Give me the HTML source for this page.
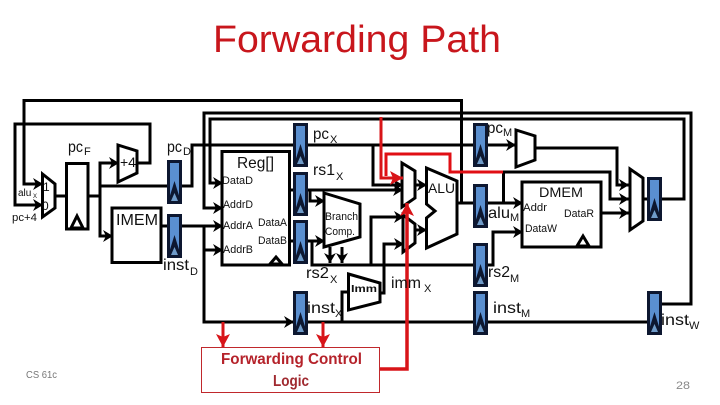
<!DOCTYPE html>
<html><head><meta charset="utf-8"><style>
html,body{margin:0;padding:0;background:#fff}
svg{display:block}
text{font-family:"Liberation Sans",sans-serif;fill:#111}
.w{fill:none;stroke:#000;stroke-width:3}
.a{fill:none;stroke:#000;stroke-width:3;marker-end:url(#ah)}
.b{fill:#fff;stroke:#000;stroke-width:3}
.r{fill:none;stroke:#e00f14;stroke-width:3}
.ra{fill:none;stroke:#d81418;stroke-width:3;marker-end:url(#rh)}
.s{font-size:11px}.m{font-size:16px}.u{font-size:11px}
</style></head><body>
<svg width="720" height="405" viewBox="0 0 720 405" xmlns="http://www.w3.org/2000/svg">
<defs>
<marker id="ah" markerUnits="userSpaceOnUse" markerWidth="13" markerHeight="13" refX="12" refY="6.5" orient="auto"><path d="M2,0.5 L12,6.5 L2,12.5 L5,6.5z" fill="#000"/></marker>
<marker id="rh" markerUnits="userSpaceOnUse" markerWidth="15" markerHeight="15" refX="14" refY="7.500" orient="auto"><path d="M1,0.5 L14,7.500 L1,14.500 L4,7.500z" fill="#d81418"/></marker>
<g id="reg"><rect x="1.5" y="1.5" width="12" height="41" fill="#5a8fd0" stroke="#0d1730" stroke-width="3"/><path d="M7.5,21 L14,42 L1,42z" fill="#0d1730"/><path d="M7.5,33 L11,41 L4,41z" fill="#6f9bc9"/></g>
</defs>
<rect width="720" height="405" fill="#fff"/>
<text x="213" y="52" font-size="38" textLength="288" lengthAdjust="spacingAndGlyphs" style="fill:#c8161c">Forwarding Path</text>

<!-- wires -->
<polyline class="a" points="461.5,203 461.5,100.5 24,100.5 24,184 43,184"/>
<polyline class="a" points="137,163 150,163 150,124 15,124 15,205 43,205"/>
<polyline class="w" points="55,196 67,196"/>
<polyline class="w" points="88,196 100,196"/>
<polyline class="a" points="118,163 100,163 100,236 113,236"/>
<polyline class="a" points="100,163 119,163"/>
<polyline class="w" points="100,186 168,186"/>
<polyline class="w" points="181,186 192,186 192,145 474,145"/>
<polyline class="a" points="474,145 516,145"/>
<polyline class="w" points="160,226 168,226"/>
<polyline class="a" points="181,226 223,226"/>
<polyline class="a" points="204,226 204,322 294,322"/>
<polyline class="a" points="204,250 223,250"/>
<polyline class="w" points="305,322 648,322"/>
<polyline class="a" points="662,304 691,304 691,113 204,113 204,208 223,208"/>
<polyline class="a" points="662,199 684,199 684,119 210,119 210,183 223,183"/>
<polyline class="a" points="289,190 310,190 403,190"/>
<polyline class="a" points="310,190 310,201 325,201"/>
<polyline class="a" points="289,241 325,241"/>
<polyline class="a" points="373,145 373,185 403,185"/>
<polyline class="w" points="312,241 312,265 474,265"/>
<polyline class="a" points="371,265 371,217 404,217"/>
<polyline class="a" points="380,293 384,293 384,244 404,244"/>
<polyline class="a" points="415,185 427,185"/>
<polyline class="a" points="415,230 427,230"/>
<polyline class="w" points="457,203 475,203"/>
<polyline class="a" points="487,203 523,203"/>
<polyline class="a" points="487,265 493,265 493,232 523,232"/>
<polyline class="a" points="503.500,203 503.500,172 610,172 610,199 629,199"/>
<polyline class="a" points="535,148 617,148 617,185 629,185"/>
<polyline class="a" points="600,213 629,213"/>
<polyline class="w" points="643,199 648,199"/>
<polyline class="w" points="342,322 342,292 349,292"/>
<polyline class="a" points="330,247 330,263"/>
<polyline class="a" points="342,247 342,263"/>

<!-- blocks -->
<polygon class="b" points="42.500,174 55,184 55,208 42.500,217"/>
<rect class="b" x="66.500" y="163.500" width="21.500" height="65.500"/>
<path d="M77,216 L83,228 L71,228z" fill="#fff" stroke="#000" stroke-width="3"/>
<polygon class="b" points="118,145 137,151 137,173 118,182"/>
<rect class="b" x="112" y="208" width="49" height="54.500"/>
<rect class="b" x="222" y="151.500" width="67.500" height="113.500"/>
<path d="M276,257 L282,264 L270,264z" fill="#fff" stroke="#000" stroke-width="3"/>
<polygon class="b" points="324,193 360,204 360,237 324,247"/>
<polygon class="b" points="348.500,274 380,283 380,302 348.500,310"/>
<polygon class="b" points="403,215 415,224 415,243 403,252"/>
<polygon class="b" points="402,163 415,171 415,198 402,207"/>
<polygon class="b" points="426.500,168 457,181 457,234 426.500,248 426.500,218 435,211 426.500,204"/>
<polygon class="b" points="516,130 535,136 535,160 516,167"/>
<rect class="b" x="522" y="182" width="79" height="65"/>
<path d="M583,236 L589,246 L577,246z" fill="#fff" stroke="#000" stroke-width="3"/>
<polygon class="b" points="630,169 643,178 643,221 630,230"/>

<use href="#reg" x="167" y="160"/>
<use href="#reg" x="167" y="214"/>
<use href="#reg" x="293" y="123"/>
<use href="#reg" x="293" y="172"/>
<use href="#reg" x="293" y="220"/>
<use href="#reg" x="293" y="291"/>
<use href="#reg" x="473" y="123"/>
<use href="#reg" x="473" y="184"/>
<use href="#reg" x="473" y="243"/>
<use href="#reg" x="473" y="291"/>
<use href="#reg" x="647" y="177"/>
<use href="#reg" x="647" y="291"/>

<!-- red forwarding -->
<polyline class="ra" points="381,117 381,178 403,178"/>
<polyline class="r" points="386,176 386,154 450,154 450,172 503,172"/>
<polyline class="ra" points="380,369 407,369 407,203" style="stroke-width:3.5"/>
<polyline class="ra" points="223,322 223,347"/>
<polyline class="ra" points="323,322 323,347"/>
<rect x="201.500" y="347.500" width="178" height="45" fill="#fff" stroke="#c0282c" stroke-width="1"/>

<!-- labels -->
<text x="68" y="152" class="m" textLength="15" lengthAdjust="spacingAndGlyphs">pc</text><text x="84" y="155" class="u">F</text>
<text x="167" y="152" class="m" textLength="15" lengthAdjust="spacingAndGlyphs">pc</text><text x="183" y="155" class="u">D</text>
<text x="120" y="167" font-size="14">+4</text>
<text x="18" y="196" style="font-size:10px">alu</text><text x="33" y="198" font-size="6">X</text>
<text x="43" y="191" style="font-size:12px">1</text><text x="42" y="210" style="font-size:12px">0</text>
<text x="12" y="221" class="s" textLength="25" lengthAdjust="spacingAndGlyphs">pc+4</text>
<text x="116" y="225" class="m" textLength="42" lengthAdjust="spacingAndGlyphs">IMEM</text>
<text x="163" y="270" class="m" textLength="26" lengthAdjust="spacingAndGlyphs">inst</text><text x="190" y="275" class="u">D</text>
<text x="237" y="168" class="m" textLength="37" lengthAdjust="spacingAndGlyphs">Reg[]</text>
<text x="222" y="184" class="s" textLength="31" lengthAdjust="spacingAndGlyphs">DataD</text>
<text x="223" y="208" class="s" textLength="30" lengthAdjust="spacingAndGlyphs">AddrD</text>
<text x="223" y="229" class="s" textLength="30" lengthAdjust="spacingAndGlyphs">AddrA</text>
<text x="223" y="253" class="s" textLength="30" lengthAdjust="spacingAndGlyphs">AddrB</text>
<text x="258" y="226" class="s" textLength="29" lengthAdjust="spacingAndGlyphs">DataA</text>
<text x="258" y="244" class="s" textLength="29" lengthAdjust="spacingAndGlyphs">DataB</text>
<text x="313" y="139" class="m" textLength="16" lengthAdjust="spacingAndGlyphs">pc</text><text x="330" y="143" class="u">X</text>
<text x="313" y="175" class="m" textLength="22" lengthAdjust="spacingAndGlyphs">rs1</text><text x="336" y="180" class="u">X</text>
<text x="306" y="278" class="m" textLength="23" lengthAdjust="spacingAndGlyphs">rs2</text><text x="330" y="283" class="u">X</text>
<text x="325" y="220" class="s" textLength="33" lengthAdjust="spacingAndGlyphs">Branch</text>
<text x="325" y="235" class="s" textLength="30" lengthAdjust="spacingAndGlyphs">Comp.</text>
<text x="351" y="292" font-size="10" font-weight="bold" textLength="26" lengthAdjust="spacingAndGlyphs">Imm</text>
<text x="391" y="288" class="m" textLength="30" lengthAdjust="spacingAndGlyphs">imm</text><text x="424" y="292" class="u">X</text>
<text x="307" y="313" class="m" textLength="28" lengthAdjust="spacingAndGlyphs">inst</text><text x="335" y="317" class="u">X</text>
<text x="428" y="193" font-size="14" textLength="27" lengthAdjust="spacingAndGlyphs">ALU</text>
<text x="487" y="133" class="m" textLength="16" lengthAdjust="spacingAndGlyphs">pc</text><text x="503" y="136" class="u">M</text>
<text x="488" y="218" class="m" textLength="22" lengthAdjust="spacingAndGlyphs">alu</text><text x="510" y="221" class="u">M</text>
<text x="488" y="277" class="m" textLength="22" lengthAdjust="spacingAndGlyphs">rs2</text><text x="510" y="282" class="u">M</text>
<text x="493" y="313" class="m" textLength="28" lengthAdjust="spacingAndGlyphs">inst</text><text x="521" y="317" class="u">M</text>
<text x="661" y="325" class="m" textLength="28" lengthAdjust="spacingAndGlyphs">inst</text><text x="689" y="329" class="u">W</text>
<text x="539" y="197" font-size="14" textLength="44" lengthAdjust="spacingAndGlyphs">DMEM</text>
<text x="523" y="211" class="s" textLength="24" lengthAdjust="spacingAndGlyphs">Addr</text>
<text x="564" y="217" class="s" textLength="30" lengthAdjust="spacingAndGlyphs">DataR</text>
<text x="525" y="232" class="s" textLength="32" lengthAdjust="spacingAndGlyphs">DataW</text>
<text x="221" y="364" font-size="16" font-weight="bold" textLength="141" lengthAdjust="spacingAndGlyphs" style="fill:#b5222a">Forwarding Control</text>
<text x="273" y="386" font-size="16" font-weight="bold" textLength="36" lengthAdjust="spacingAndGlyphs" style="fill:#a02a30">Logic</text>
<text x="26" y="378" font-size="10" textLength="31" lengthAdjust="spacingAndGlyphs" style="fill:#777">CS 61c</text>
<text x="676" y="389" font-size="11" textLength="14" lengthAdjust="spacingAndGlyphs" style="fill:#888">28</text>
</svg>
</body></html>
